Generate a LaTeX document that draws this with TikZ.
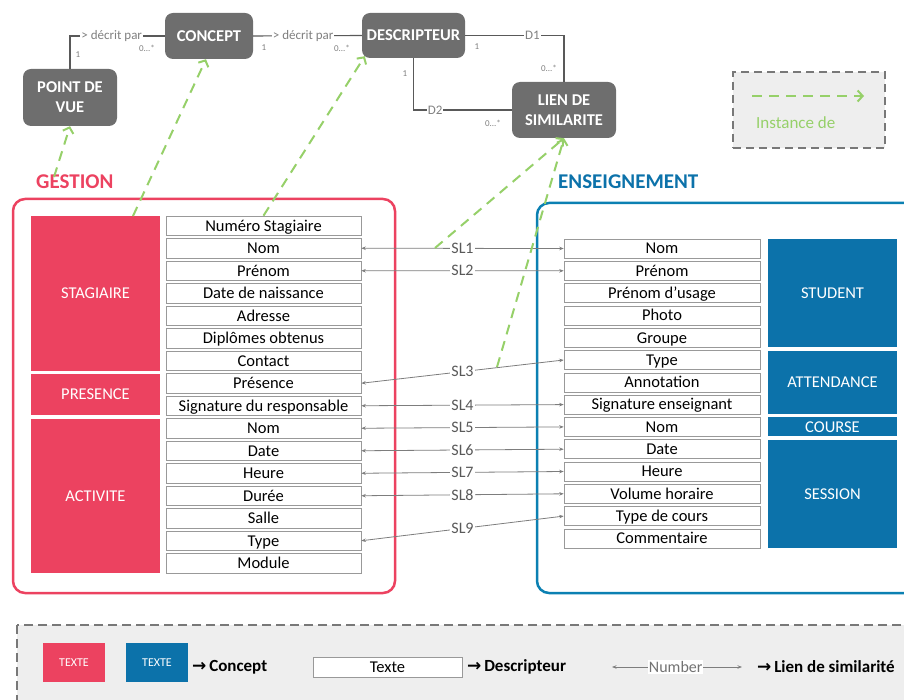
\documentclass[tikz,border=0pt]{standalone}
\usepackage{fontspec}
\setmainfont{Carlito}
\newfontfamily\arrowfont{DejaVu Sans}
\usetikzlibrary{arrows.meta}
\definecolor{gred}{RGB}{236,66,96}
\definecolor{eblue}{RGB}{12,114,170}
\definecolor{cgray}{RGB}{110,110,110}
\definecolor{lgreen}{RGB}{150,208,105}
\definecolor{lbg}{RGB}{238,238,238}
\definecolor{lnk}{RGB}{125,125,125}
\definecolor{sltxt}{RGB}{89,89,89}
\definecolor{dashgray}{RGB}{120,120,120}
\begin{document}
\begin{tikzpicture}[x=1pt,y=-1pt,
  gbox/.style={rectangle, rounded corners=8pt, fill=cgray, text=white,
    font=\fontsize{16.5}{20}\selectfont\bfseries, align=center, inner sep=0pt},
  descbox/.style={draw=black!40, fill=white, line width=0.6pt, minimum width=195pt,
    minimum height=19.5pt, inner sep=0pt, font=\fontsize{16.5}{18}\selectfont,
    text height=10.6pt, text depth=0pt},
  rdescbox/.style={descbox, minimum width=196pt, minimum height=19pt},
  cblock/.style={inner sep=0pt, text=white, font=\fontsize{16.5}{18}\selectfont,
    minimum width=129pt},
  redblock/.style={cblock, fill=gred},
  blueblock/.style={cblock, fill=eblue},
  slink/.style={draw=lnk, line width=0.8pt,
    {Stealth[length=4.5pt,width=3.5pt]}-{Stealth[length=4.5pt,width=3.5pt]}},
  sllabel/.style={fill=white, inner sep=1pt, text=sltxt,
    font=\fontsize{16}{16}\selectfont},
  topline/.style={draw=black!65, line width=1.1pt},
  toplabel/.style={fill=white, inner sep=1pt, text=black!50,
    font=\fontsize{13}{13}\selectfont},
  mult/.style={inner sep=0pt, text=black!50, font=\fontsize{9}{9}\selectfont},
  inst/.style={draw=lgreen, line width=2pt, dash pattern=on 10pt off 7pt,
    -{Straight Barb[length=5pt,width=11pt]}},
  legtxt/.style={anchor=west, inner sep=0pt, font=\fontsize{17}{17}\selectfont\bfseries},
]
\useasboundingbox (0,0) rectangle (904,700);

% containers
\draw[gred, line width=2.5pt, rounded corners=12pt] (13,199) rectangle (395,593);
\draw[eblue!90!cyan, line width=2.5pt, rounded corners=12pt] (537,203) rectangle (925,593);
\node[anchor=west, inner sep=0pt, text=gred, font=\fontsize{21}{21}\selectfont\bfseries] (gestion) at (36,182) {GESTION};
\node[anchor=west, inner sep=0pt, text=eblue, font=\fontsize{21}{21}\selectfont\bfseries] (enseign) at (558,182) {ENSEIGNEMENT};

% concept blocks left
\node[redblock, minimum height=154.5pt] (stagiaire) at (95.5,293.25) {STAGIAIRE};
\node[redblock, minimum height=41.5pt] (presence) at (95.5,394.25) {PRESENCE};
\node[redblock, minimum height=154.5pt] (activite) at (95.5,495.75) {ACTIVITE};

% concept blocks right
\node[blueblock, minimum height=108.2pt] (student) at (832.5,293.1) {STUDENT};
\node[blueblock, minimum height=63.5pt] (attendance) at (832.5,382.25) {ATTENDANCE};
\node[blueblock, minimum height=19pt] (course) at (832.5,426.9) {COURSE};
\node[blueblock, minimum height=108.3pt] (session) at (832.5,493.85) {SESSION};

% left descriptors
\node[descbox] (lnum) at (263.5,225.75) {Numéro Stagiaire};
\node[descbox] (lnom) at (263.5,248.25) {Nom};
\node[descbox] (lprenom) at (263.5,270.75) {Prénom};
\node[descbox] (ldn) at (263.5,293.25) {Date de naissance};
\node[descbox] (ladr) at (263.5,315.75) {Adresse};
\node[descbox] (ldip) at (263.5,338.25) {Diplômes obtenus};
\node[descbox] (lcont) at (263.5,360.75) {Contact};
\node[descbox] (lpres) at (263.5,383.25) {Présence};
\node[descbox] (lsig) at (263.5,405.75) {Signature du responsable};
\node[descbox] (lanom) at (263.5,428.25) {Nom};
\node[descbox] (ldate) at (263.5,450.75) {Date};
\node[descbox] (lheure) at (263.5,473.25) {Heure};
\node[descbox] (lduree) at (263.5,495.75) {Durée};
\node[descbox] (lsalle) at (263.5,518.25) {Salle};
\node[descbox] (ltype) at (263.5,540.75) {Type};
\node[descbox] (lmod) at (263.5,563.25) {Module};

% right descriptors
\node[rdescbox] (rnom) at (662,248.5) {Nom};
\node[rdescbox] (rprenom) at (662,270.8) {Prénom};
\node[rdescbox] (rpu) at (662,293.1) {Prénom d’usage};
\node[rdescbox] (rphoto) at (662,315.4) {Photo};
\node[rdescbox] (rgroupe) at (662,337.7) {Groupe};
\node[rdescbox] (rtype) at (662,360.0) {Type};
\node[rdescbox] (rannot) at (662,382.3) {Annotation};
\node[rdescbox] (rsig) at (662,404.6) {Signature enseignant};
\node[rdescbox] (rcnom) at (662,426.9) {Nom};
\node[rdescbox] (rdate) at (662,449.2) {Date};
\node[rdescbox] (rheure) at (662,471.5) {Heure};
\node[rdescbox] (rvol) at (662,493.8) {Volume horaire};
\node[rdescbox] (rtdc) at (662,516.1) {Type de cours};
\node[rdescbox] (rcomm) at (662,538.4) {Commentaire};

% similarity links
\draw[slink] (lnom.east) -- node[sllabel]{SL1} (rnom.west);
\draw[slink] (lprenom.east) -- node[sllabel]{SL2} (rprenom.west);
\draw[slink] (lpres.east) -- node[sllabel]{SL3} (rtype.west);
\draw[slink] (lsig.east) -- node[sllabel]{SL4} (rsig.west);
\draw[slink] (lanom.east) -- node[sllabel]{SL5} (rcnom.west);
\draw[slink] (ldate.east) -- node[sllabel]{SL6} (rdate.west);
\draw[slink] (lheure.east) -- node[sllabel]{SL7} (rheure.west);
\draw[slink] (lduree.east) -- node[sllabel]{SL8} (rvol.west);
\draw[slink] (ltype.east) -- node[sllabel]{SL9} (rtdc.west);

% top meta-model
\node[gbox, minimum width=94pt, minimum height=57pt] (pdv) at (70,97.5) {POINT DE\\VUE};
\node[gbox, minimum width=88pt, minimum height=46pt] (concept) at (209,36) {CONCEPT};
\node[gbox, minimum width=103pt, minimum height=45pt] (descripteur) at (413.5,35.5) {DESCRIPTEUR};
\node[gbox, minimum width=104pt, minimum height=56pt] (lien) at (564,110) {LIEN DE\\SIMILARITE};

\draw[topline] (pdv.north) |- node[toplabel, pos=0.72]{> décrit par} (concept.west);
\draw[topline] (concept.east) -- node[toplabel, pos=0.46]{> décrit par} (descripteur.west);
\draw[topline] (descripteur.east) -| node[toplabel, pos=0.34]{D1} (lien.north);
\draw[topline] (descripteur.south) |- node[toplabel, pos=0.61]{D2} (lien.west);

\node[mult] (m1) at (78,55) {1};
\node[mult] (m2) at (147,48) {0...*};
\node[mult] (m3) at (264,48) {1};
\node[mult] (m4) at (342,48) {0...*};
\node[mult] (m5) at (477,47) {1};
\node[mult] (m6) at (549,68) {0...*};
\node[mult] (m7) at (405,74) {1};
\node[mult] (m8) at (493,123) {0...*};

% instance legend (top right)
\node[draw=dashgray, fill=lbg, line width=2pt, dash pattern=on 8pt off 5pt,
  minimum width=152pt, minimum height=76pt, inner sep=0pt] (instbox) at (809,110) {};
\coordinate (ia) at (752,96);
\coordinate (ib) at (864,96);
\draw[inst] (ia) -- (ib);
\node[anchor=west, inner sep=0pt, text=lgreen, font=\fontsize{17}{17}\selectfont] (insttxt) at (756,123) {Instance de};

% bottom legend
\draw[dashgray, fill=lbg, line width=1.8pt, dash pattern=on 9pt off 5pt] (17,625) rectangle (925,712);
\node[fill=gred, text=white, minimum width=62pt, minimum height=39pt, inner sep=0pt,
  font=\fontsize{12}{12}\selectfont] (lgred) at (74,662.5) {TEXTE};
\node[fill=eblue, text=white, minimum width=62pt, minimum height=39pt, inner sep=0pt,
  font=\fontsize{12}{12}\selectfont] (lgblue) at (157,662.5) {TEXTE};
\node[legtxt] (lgconcept) at (192,667) {{\arrowfont →}\,Concept};
\node[draw=black!40, fill=white, line width=0.6pt, minimum width=149pt, minimum height=20pt,
  inner sep=0pt, font=\fontsize{16.5}{16.5}\selectfont] (lgtexte) at (387.5,667) {Texte};
\node[legtxt] (lgdesc) at (467,667) {{\arrowfont →}\,Descripteur};
\coordinate (na) at (612,667);
\coordinate (nb) at (742,667);
\draw[slink] (na) -- node[fill=white, inner sep=1pt, text=black!55, font=\fontsize{16}{16}\selectfont, pos=0.49]{Number} (nb);
\node[legtxt] (lglien) at (757,667) {{\arrowfont →}\,Lien de similarité};

% instance-of arrows
\coordinate (g1) at (54,177);
\coordinate (g2) at (133,216);
\coordinate (g4) at (435,248);
\coordinate (g5) at (497,367);
\draw[inst] (g1) -- (pdv.south);
\draw[inst] (g2) -- ([xshift=-3pt]concept.south);
\draw[inst] (lnum.north) -- ([xshift=3pt,yshift=2pt]descripteur.south west);
\draw[inst] (g4) -- (lien.south);
\draw[inst] (g5) -- (lien.south);
\end{tikzpicture}
\end{document}
